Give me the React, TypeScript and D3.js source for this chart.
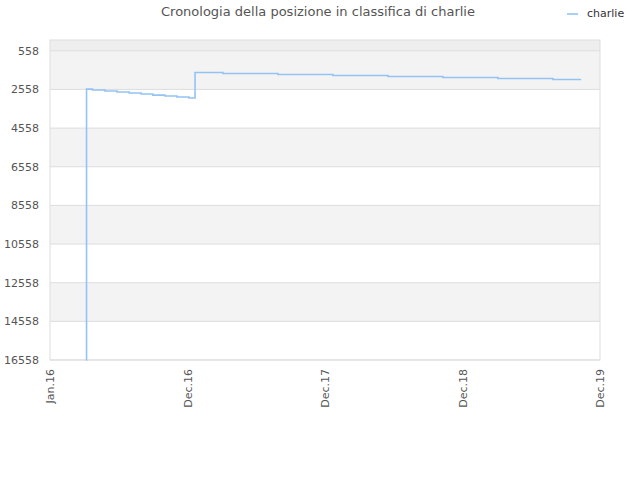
import * as d3 from 'd3'
import React from 'react'

const title = 'Cronologia della posizione in classifica di charlie'
const seriesName = 'charlie'

const dates = [
  '2016-04-06', '2016-04-07', '2016-04-23', '2016-05-26', '2016-06-27', '2016-07-29',
  '2016-08-30', '2016-09-30', '2016-11-01', '2016-12-03', '2017-01-04', '2017-01-20',
  '2017-04-04', '2017-08-28', '2018-01-21', '2018-06-16', '2018-11-09', '2019-04-04',
  '2019-08-28', '2019-11-11',
]
const ranks = [
  16558, 2540, 2590, 2640, 2690, 2745, 2795, 2850, 2900, 2950, 3000, 1682, 1734, 1785,
  1837, 1889, 1940, 1992, 2044, 2044,
]

const yTicks = [558, 2558, 4558, 6558, 8558, 10558, 12558, 14558, 16558]
const xTickDates = ['2016-01-01', '2016-12-31', '2017-12-31', '2018-12-31', '2019-12-31']
const xTickLabels = ['Jan.16', 'Dec.16', 'Dec.17', 'Dec.18', 'Dec.19']

const width = 640
const height = 480
const margin = { top: 40, right: 40, bottom: 120, left: 50 }

export default function App() {
  const parse = d3.timeParse('%Y-%m-%d')
  const x = d3
    .scaleTime()
    .domain([parse('2016-01-01') as Date, parse('2019-12-31') as Date])
    .range([margin.left, width - margin.right])
  const y = d3
    .scaleLinear()
    .domain([0, 16558])
    .range([margin.top, height - margin.bottom])

  const points = dates.map((d, i) => ({ date: parse(d) as Date, rank: ranks[i] }))
  const line = d3
    .line<{ date: Date; rank: number }>()
    .x((d) => x(d.date))
    .y((d) => y(d.rank))
    .curve(d3.curveStepAfter)

  // bands between ticks, the first one from 0 to the first tick
  const bandEdges = [0, ...yTicks]
  const left = margin.left
  const right = width - margin.right
  const font = 'DejaVu Sans, sans-serif'

  return (
    <svg
      width={width}
      height={height}
      style={{ position: 'absolute', left: 0, top: 0, fontFamily: font }}
    >
      <rect width={width} height={height} fill='#fff' />
      {bandEdges.slice(0, -1).map((v, i) => (
        <rect
          key={`band-${i}`}
          x={left}
          y={y(v)}
          width={right - left}
          height={y(bandEdges[i + 1]) - y(v)}
          fill={i === 0 ? '#eeeeee' : i % 2 === 1 ? '#f3f3f3' : '#ffffff'}
        />
      ))}
      {yTicks.map((t) => (
        <g key={`y-${t}`}>
          <line x1={left} x2={right} y1={y(t)} y2={y(t)} stroke='#dddddd' />
          <text
            x={left - 11}
            y={y(t)}
            dy='0.35em'
            textAnchor='end'
            fontSize={11}
            fill='#555'
          >
            {t}
          </text>
        </g>
      ))}
      <rect
        x={left}
        y={margin.top}
        width={right - left}
        height={height - margin.bottom - margin.top}
        fill='none'
        stroke='#dddddd'
      />
      {xTickDates.map((d, i) => {
        const px = x(parse(d) as Date)
        return (
          <text
            key={`x-${d}`}
            transform={`translate(${px + 4}, ${height - margin.bottom + 9}) rotate(-90)`}
            textAnchor='end'
            fontSize={11}
            fill='#555'
          >
            {xTickLabels[i]}
          </text>
        )
      })}
      <path d={line(points) || ''} fill='none' stroke='#94c3f3' strokeWidth={1.6} />
      <text x={318} y={16} textAnchor='middle' fontSize={13} fill='#555'>
        {title}
      </text>
      <line x1={567} x2={578} y1={14} y2={14} stroke='#94c3f3' strokeWidth={1.6} />
      <text x={587} y={17} fontSize={11} fill='#333'>
        {seriesName}
      </text>
    </svg>
  )
}
